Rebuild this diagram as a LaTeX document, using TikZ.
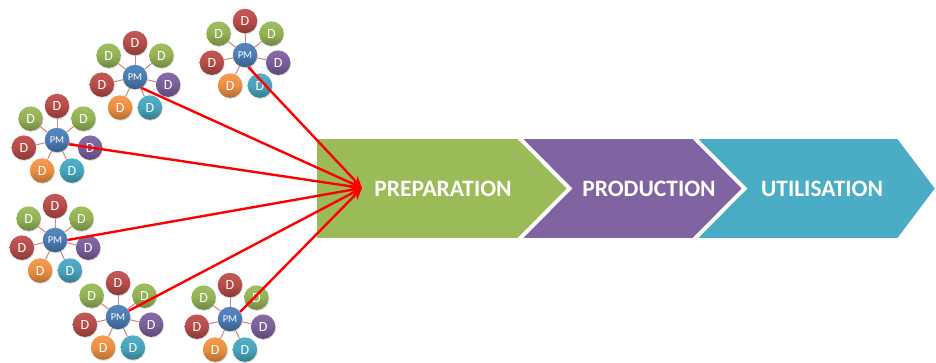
\documentclass[tikz,border=0pt]{standalone}
\usepackage{fontspec}
\setmainfont{Carlito}
\usepackage{tikz}
\usetikzlibrary{arrows.meta,positioning,calc,shadows}
\definecolor{dred}{RGB}{192,80,77}
\definecolor{dgreen}{RGB}{155,187,89}
\definecolor{dpurple}{RGB}{128,100,162}
\definecolor{dorange}{RGB}{247,150,70}
\definecolor{dcyan}{RGB}{75,172,198}
\definecolor{pmblue}{RGB}{79,129,189}
\definecolor{arrred}{RGB}{255,0,0}

% one PM with its seven D around it: name, x, y
\newcommand{\pmcluster}[3]{%
  \node[pmnode] (#1) at (#2,#3) {PM};
  \foreach \ang/\col [count=\k] in {90/dred,141/dgreen,39/dgreen,193/dred,-13/dpurple,-116/dorange,-64/dcyan}{
    \node[dnode=\col] (#1d\k) at ($(#1)+(\ang:34pt)$) {D};
    \draw[spoke] (#1) -- (#1d\k);
  }%
}

\begin{document}
\begin{tikzpicture}[x=1pt, y=-1pt,
  pmnode/.style={circle, minimum size=24.5pt, inner sep=0pt,
                 top color=pmblue!95!white, bottom color=pmblue!72!black, middle color=pmblue!95!black,
                 drop shadow={shadow xshift=0.6pt, shadow yshift=-1pt, opacity=0.3},
                 font=\fontsize{10.5}{10.5}\selectfont, text=white},
  dnode/.style={circle, minimum size=24.5pt, inner sep=0pt,
                top color=#1!95!white, bottom color=#1!72!black, middle color=#1!95!black,
                drop shadow={shadow xshift=0.6pt, shadow yshift=-1pt, opacity=0.3},
                font=\fontsize{14}{14}\selectfont, text=white},
  spoke/.style={draw=dred!70, line width=1pt},
  phase/.style={draw=white, line width=1.8pt},
  phaselabel/.style={font=\fontsize{23.5}{23.5}\selectfont\bfseries, text=white},
  farr/.style={-{Stealth[length=12pt, width=10pt]}, draw=arrred, line width=2.4pt}
]
\useasboundingbox (0,0) rectangle (936,363);

% Phases
\fill[dcyan, phase]   (696,138) -- (898,138) -- (936,188.5) -- (898,239) -- (696,239) -- (746,188.5) -- cycle;
\fill[dpurple, phase] (521,138) -- (693,138) -- (743,188.5) -- (693,239) -- (521,239) -- (571,188.5) -- cycle;
\fill[dgreen, phase]  (316,138) -- (518,138) -- (568,188.5) -- (518,239) -- (316,239) -- cycle;
\node[phaselabel] (tprep) at (443,188.5) {PREPARATION};
\node[phaselabel] (tprod) at (649,188.5) {PRODUCTION};
\node[phaselabel] (tutil) at (822,188.5) {UTILISATION};

% Clusters
\pmcluster{c1}{135}{77}
\pmcluster{c2}{245}{55}
\pmcluster{c3}{57}{140}
\pmcluster{c4}{55}{240}
\pmcluster{c5}{118}{317}
\pmcluster{c6}{230}{319}

% Arrows
\coordinate (hub) at (362,188);
\draw[farr] (c1.-60) -- (hub);
\draw[farr] (c2.-75) -- (hub);
\draw[farr] (c3.-20) -- (hub);
\draw[farr] (c4.east) -- (hub);
\draw[farr] (c5.30)  -- (hub);
\draw[farr] (c6.35)  -- (hub);
\end{tikzpicture}
\end{document}
